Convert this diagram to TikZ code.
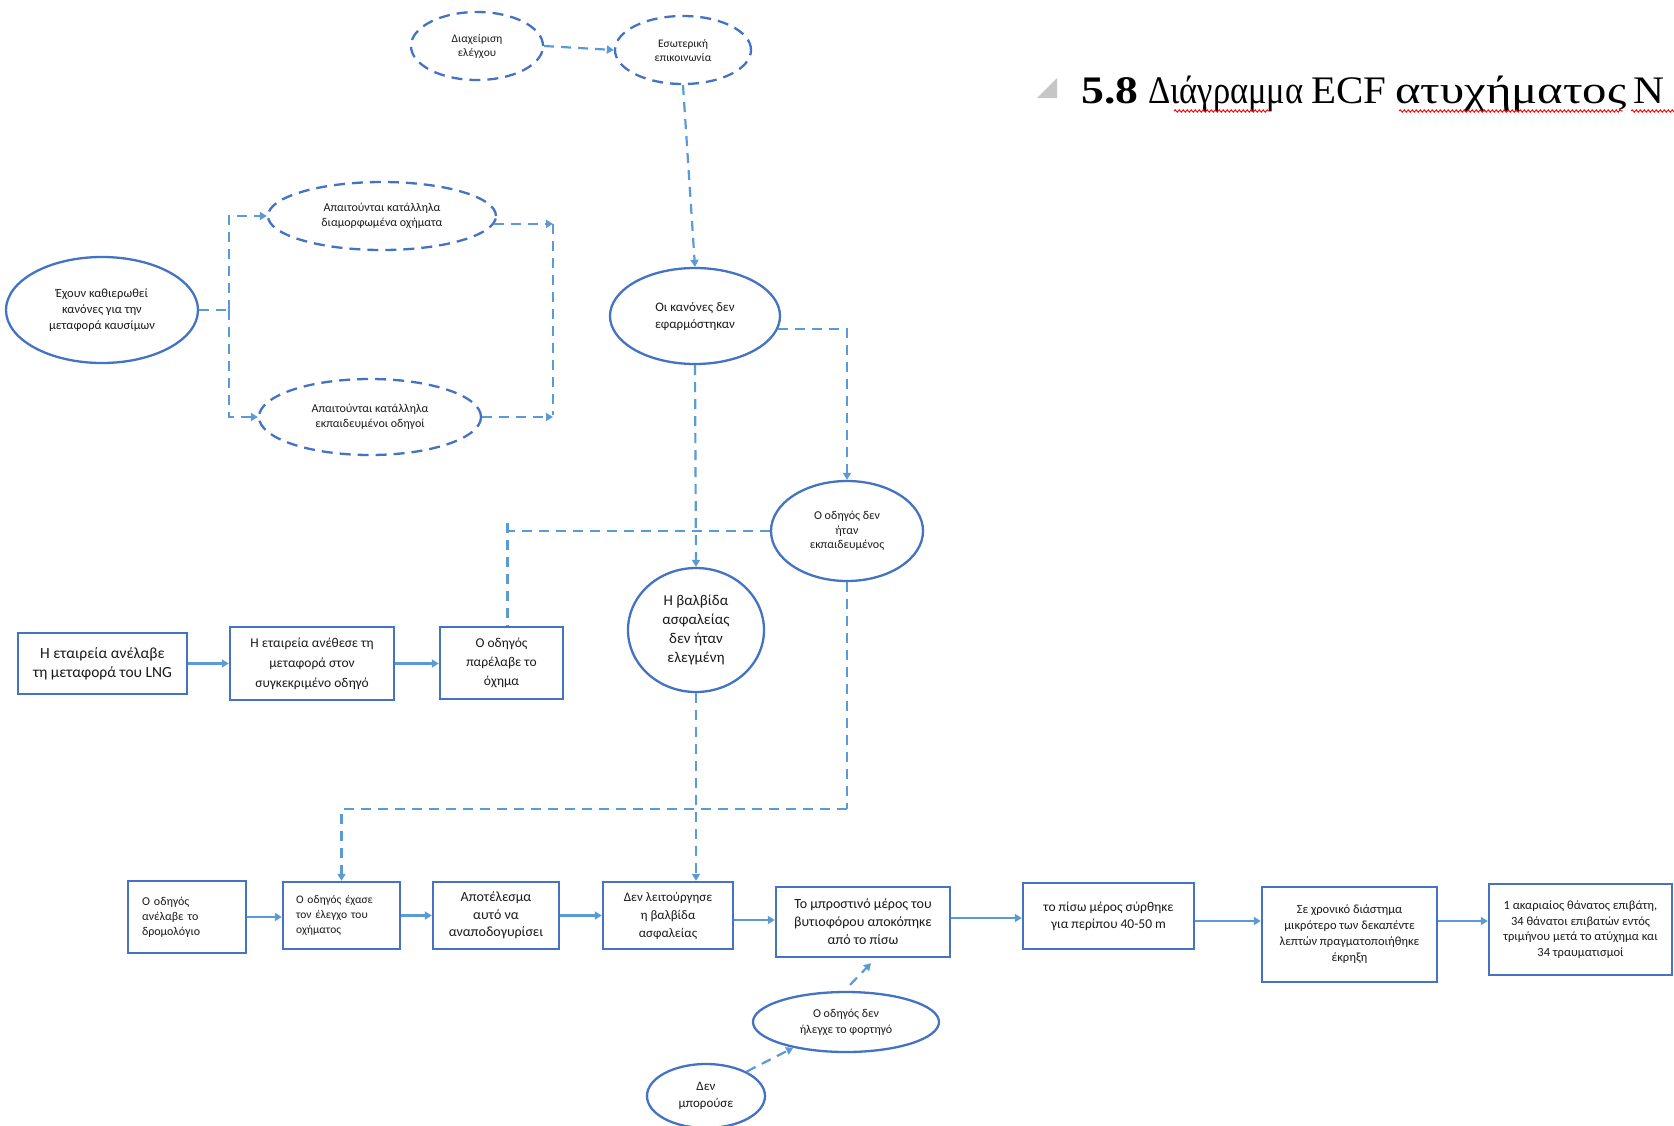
\documentclass[tikz,border=0pt]{standalone}
\usepackage{fontspec}
\setmainfont{Carlito}
\newfontfamily\titlefont{Liberation Serif}
\usetikzlibrary{arrows.meta,shapes.geometric,decorations.pathmorphing,calc}

\definecolor{shapeblue}{HTML}{4472C4}
\definecolor{linkblue}{HTML}{5B9BD5}
\definecolor{txt}{HTML}{1A1A1A}

\tikzset{
  fs/.style 2 args={font=\fontsize{#1}{#2}\selectfont},
  sz/.style 2 args={minimum width=#1pt, minimum height=#2pt},
  oval/.style={ellipse, draw=shapeblue, line width=2.3pt, inner sep=0pt, align=center, text=txt},
  dashoval/.style={oval, dash pattern=on 11pt off 7pt},
  box/.style={rectangle, draw=shapeblue, line width=2.4pt, inner sep=0pt, align=center, text=txt},
  link/.style={draw=linkblue, line width=2.2pt, -{Triangle[length=7pt,width=8pt]}},
  dlink/.style={link, dash pattern=on 10pt off 7pt},
  dline/.style={draw=linkblue, line width=2.2pt, dash pattern=on 10pt off 7pt},
  ttl/.style={font=\titlefont\fontsize{39}{46}\selectfont, inner sep=0pt, text=black},
  spell/.style={draw=red, line width=0.9pt, decorate, decoration={snake, amplitude=1.2pt, segment length=4pt}},
}

\begin{document}
\begin{tikzpicture}[x=1pt, y=-1pt]
\useasboundingbox[fill=white] (0,0) rectangle (1674,1125);

% heading
\fill[gray!45] (1037,98) -- (1057,98) -- (1057,78) -- cycle;
\node[ttl, anchor=base west] (t1) at (1081,103) {\scalebox{1.17}[1]{\textbf{5.8}}};
\node[ttl, anchor=base west] (t2) at (1148,103) {\scalebox{0.886}[1]{Διάγραμμα}};
\node[ttl, anchor=base west] (t3) at (1311,103) {\scalebox{1.05}[1]{ECF}};
\node[ttl, anchor=base west] (t4) at (1395,103) {\scalebox{1.25}[1]{ατυχήματος}};
\node[ttl, anchor=base west] (t5) at (1633,103) {\scalebox{1.1}[1]{N}};
\draw[spell] ([xshift=26pt,yshift=-8pt]t2.base west) -- ([xshift=-35pt,yshift=-8pt]t2.base east);
\draw[spell] ([xshift=4pt,yshift=-8pt]t4.base west) -- ([xshift=-4pt,yshift=-8pt]t4.base east);
\draw[spell] ([xshift=-2pt,yshift=-8pt]t5.base west) -- ([xshift=45pt,yshift=-8pt]t5.base west);

% upper part: rules and management
\node[dashoval, sz={132}{68}, fs={11.5}{14}] (diax) at (477,46) {Διαχείριση\\ελέγχου};
\node[dashoval, sz={136}{68}, fs={11.5}{14}] (esot) at (683,50) {Εσωτερική\\επικοινωνία};
\node[oval, sz={192}{106}, fs={12.5}{16}] (hold) at (102,310) {Έχουν καθιερωθεί\\κανόνες για την\\μεταφορά καυσίμων};
\node[dashoval, sz={228}{68}, fs={12}{15}] (apait1) at (382,216) {Απαιτούνται κατάλληλα\\διαμορφωμένα οχήματα};
\node[dashoval, sz={222}{76}, fs={12}{15}] (apait2) at (370,417) {Απαιτούνται κατάλληλα\\εκπαιδευμένοι οδηγοί};
\node[oval, sz={170}{96}, fs={13}{17}] (kanones) at (695,316) {Οι κανόνες δεν\\εφαρμόστηκαν};
\node[oval, sz={152}{100}, fs={12}{14.5}] (ekp) at (847,531) {Ο οδηγός δεν\\ήταν\\εκπαιδευμένος};
\node[oval, sz={136}{124}, fs={15}{19}] (valvida) at (696,630) {Η βαλβίδα\\ασφαλείας\\δεν ήταν\\ελεγμένη};

% middle row
\node[box, sz={169}{61}, fs={15.5}{19}] (m1) at (102.5,663.5) {Η εταιρεία ανέλαβε\\τη μεταφορά του LNG};
\node[box, sz={164}{73}, fs={13.5}{20}] (m2) at (312,663.5) {Η εταιρεία ανέθεσε τη\\μεταφορά στον\\συγκεκριμένο οδηγό};
\node[box, sz={123}{72}, fs={13.5}{19}] (parelave) at (501.5,663) {Ο οδηγός\\παρέλαβε το\\όχημα};

% bottom row
\node[box, sz={118}{72}, fs={12}{15}, text width=90pt, align=left] (b1) at (187,917) {Ο οδηγός\\ανέλαβε το\\δρομολόγιο};
\node[box, sz={117}{67}, fs={11.5}{15}, text width=91pt, align=left] (b2) at (341.5,915.5) {Ο οδηγός έχασε\\τον έλεγχο του\\οχήματος};
\node[box, sz={126}{67}, fs={14}{17.5}] (b3) at (496,915.5) {Αποτέλεσμα\\αυτό να\\αναποδογυρίσει};
\node[box, sz={130}{67}, fs={13}{18}] (b4) at (668,915.5) {Δεν λειτούργησε\\η βαλβίδα\\ασφαλείας};
\node[box, sz={174}{70}, fs={14}{18}] (b5) at (863,922) {Το μπροστινό μέρος του\\βυτιοφόρου αποκόπηκε\\από το πίσω};
\node[box, sz={171}{66}, fs={13.5}{17}] (b6) at (1108.5,916) {το πίσω μέρος σύρθηκε\\για περίπου 40-50 m};
\node[box, sz={175}{95}, fs={12.5}{16}] (b7) at (1349.5,934.5) {Σε χρονικό διάστημα\\μικρότερο των δεκαπέντε\\λεπτών πραγματοποιήθηκε\\έκρηξη};
\node[box, sz={183}{91}, fs={12.5}{15.5}] (b8) at (1580.5,929.5) {1 ακαριαίος θάνατος επιβάτη,\\34 θάνατοι επιβατών εντός\\τριμήνου μετά το ατύχημα και\\34 τραυματισμοί};

\node[oval, sz={186}{60}, fs={12}{16}] (elegxe) at (846,1022) {Ο οδηγός δεν\\ήλεγχε το φορτηγό};
\node[oval, sz={118}{64}, fs={13}{17}] (mporouse) at (706,1096) {Δεν\\μπορούσε};

% dashed links in the upper part
\draw[dlink] (diax.east) -- (esot.west);
\draw[dlink] (esot.south) -- (kanones.north);
\draw[dline] (hold.east) -- ++(30,0) coordinate (split);
\draw[dlink] (split) |- (apait1.west);
\draw[dlink] (split) |- (apait2.west);
\coordinate (rtop) at (553,224);
\coordinate (rbot) at (553,415);
\draw[dlink] (apait1.-4) -- (apait1.-4 -| rtop);
\draw[dlink] (apait2.east) -- (apait2.east -| rbot);
\draw[dline] (rtop) -- (rbot);
\draw[dlink] (kanones.-9) -| (ekp.north);
\draw[dlink] (kanones.south) -- (valvida.north);

% links from the driver's training to the vehicle handover
\coordinate (stubtop) at ([xshift=6pt]parelave.north |- 0,523);
\draw[dline] (stubtop) -- ([xshift=6pt]parelave.north);
\draw[dline] (ekp.west) -- (ekp.west -| stubtop);

% links down to the bottom row
\draw[dline] (ekp.south) -- (ekp.south |- 0,809) coordinate (turn);
\draw[dlink] (turn) -| (b2.north);
\draw[dlink] (valvida.south) -- (valvida.south |- b4.north);

% solid sequence links
\draw[link] (m1.east) -- (m1.east -| m2.west);
\draw[link] (m2.east) -- (m2.east -| parelave.west);
\draw[link] (b1.east) -- (b1.east -| b2.west);
\draw[link] (b2.east) -- (b2.east -| b3.west);
\draw[link] (b3.east) -- (b3.east -| b4.west);
\draw[link] (b4.east |- 0,920) -- (b5.west |- 0,920);
\draw[link] (b5.east |- 0,918) -- (b6.west |- 0,918);
\draw[link] (b6.east |- 0,921) -- (b7.west |- 0,921);
\draw[link] (b7.east |- 0,921) -- (b8.west |- 0,921);

% causes below the separation
\draw[dlink] ([xshift=4pt,yshift=6pt]elegxe.north) -- ([xshift=8pt,yshift=-5pt]b5.south);
\draw[dlink] (mporouse.31) -- (elegxe.206);
\end{tikzpicture}
\end{document}
